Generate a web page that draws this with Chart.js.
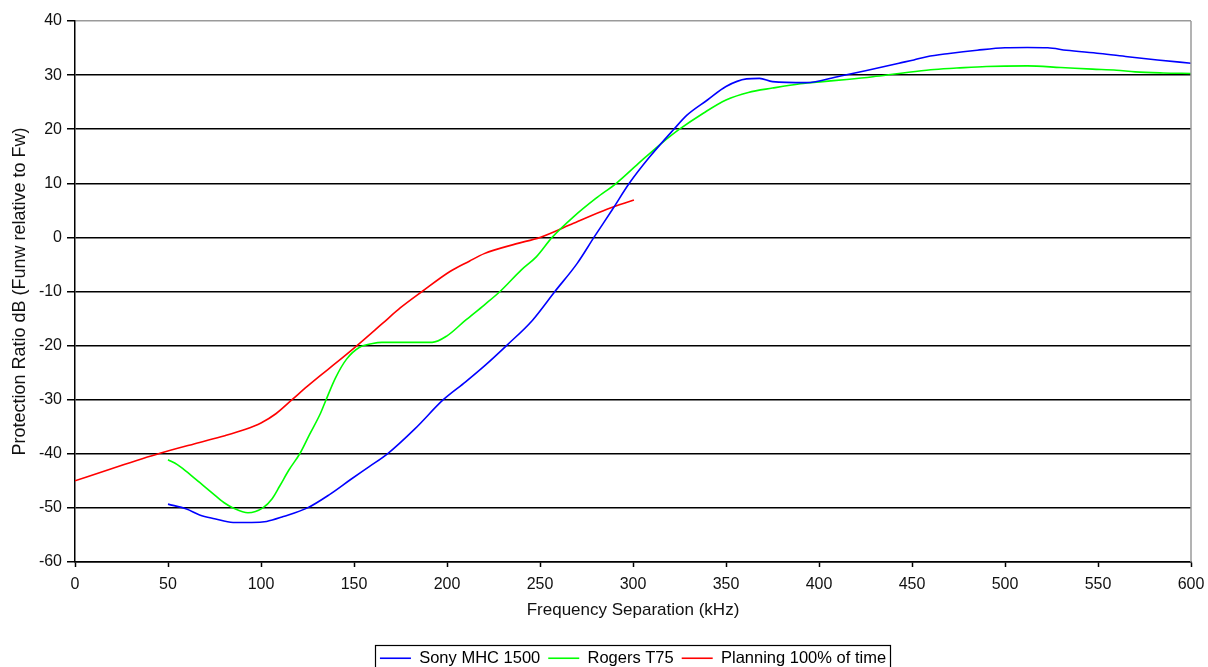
<!DOCTYPE html>
<html>
<head>
<meta charset="utf-8">
<script src="https://cdn.jsdelivr.net/npm/chart.js@4/dist/chart.umd.min.js"></script>
<style>
  html, body { margin: 0; padding: 0; background: #fff; }
  #wrap { width: 1208px; height: 667px; }
</style>
</head>
<body>
<div id="wrap"><canvas id="c" width="1208" height="667"></canvas></div>
<script>
// ---- data ----
const seriesNames = ['Sony MHC 1500', 'Rogers T75', 'Planning 100% of time'];

const sonyX = [50, 60, 67, 75, 85, 95, 103, 112, 125, 137, 148, 158, 168, 183, 198, 210, 220, 232, 246, 258, 270, 279, 289, 298, 309, 322, 329, 340, 350, 361, 368, 375, 393, 411, 425, 443, 451, 458, 470, 485, 500, 512, 523, 533, 551, 566, 582, 600];
const sonyY = [-49.3, -50.2, -51.3, -52.0, -52.7, -52.7, -52.5, -51.6, -50.0, -47.5, -44.8, -42.4, -40.0, -35.3, -30.0, -26.7, -23.8, -20.0, -15.3, -10.0, -4.8, 0, 5.2, 10, 14.9, 20, 22.6, 25.4, 27.9, 29.3, 29.4, 28.8, 28.6, 29.8, 30.8, 32.2, 32.8, 33.4, 34.0, 34.6, 35.05, 35.1, 35.05, 34.6, 34.0, 33.4, 32.8, 32.2];

const rogersX = [50, 55, 60, 67, 74, 80, 85, 93, 101, 106, 110, 115, 121, 126, 132, 135, 140, 146, 153, 160, 165, 192, 200, 210, 220, 228.5, 240, 248, 256.5, 268, 280, 291, 304, 315, 325, 338, 350, 362, 375, 390, 402, 415, 429, 443, 460, 474, 490, 512, 530, 547, 560, 570, 585, 600];
const rogersY = [-41.1, -42.0, -43.3, -45.3, -47.3, -49.0, -50.0, -50.9, -50.0, -48.3, -46.0, -43.0, -39.9, -36.5, -32.5, -30.0, -26.0, -22.5, -20.3, -19.6, -19.4, -19.4, -18.2, -15.3, -12.5, -10, -6.0, -3.6, 0, 3.8, 7.2, 10, 14.0, 17.3, 20, 23.0, 25.4, 26.8, 27.6, 28.4, 28.8, 29.2, 29.7, 30.3, 31.0, 31.3, 31.6, 31.7, 31.4, 31.1, 30.9, 30.6, 30.4, 30.3];

const planX = [0, 20, 45.7, 67, 80, 90.5, 100, 108, 117, 125, 132, 140, 151.6, 165, 175, 186.6, 201.6, 212, 220, 237, 250, 268, 286, 300.5];
const planY = [-45, -42.7, -39.9, -37.9, -36.7, -35.6, -34.3, -32.6, -29.9, -27.5, -25.5, -23.3, -20, -16.0, -13.0, -10, -6.3, -4.4, -3.0, -1.2, 0, 2.6, 5.2, 6.9];

const xMin = 0, xMax = 600, xStep = 50;
const yMin = -60, yMax = 40, yStep = 10;

const xTitle = 'Frequency Separation (kHz)';
const yTitle = 'Protection Ratio dB (Funw relative to Fw)';

// ---- build ----
const toPts = (xs, ys) => xs.map((x, i) => ({ x: x, y: ys[i] }));
const FONT = '"Liberation Sans", Arial, sans-serif';

const legendFix = {
  id: 'legendFix',
  beforeLayout(chart) {
    const lg = chart.legend;
    if (lg && !lg._fixed) {
      const f = lg.fit;
      lg.fit = function () { f.call(this); this.height = 25; };
      lg._fixed = true;
    }
  },
  afterDraw(chart) {
    const ctx = chart.ctx;
    const a = chart.chartArea;
    ctx.save();
    // plot frame (right side, grey)
    ctx.strokeStyle = '#9a9a9a';
    ctx.lineWidth = 1.5;
    ctx.beginPath();
    ctx.moveTo(a.right, a.top);
    ctx.lineTo(a.right, a.bottom);
    ctx.stroke();
    // legend border
    const lg = chart.legend;
    if (lg && lg.legendHitBoxes && lg.legendHitBoxes.length) {
      const hb = lg.legendHitBoxes;
      const l = hb[0].left - 5;
      const last = hb[hb.length - 1];
      const r = last.left + last.width + 4;
      const t = hb[0].top - 5;
      ctx.strokeStyle = '#000';
      ctx.lineWidth = 1.2;
      ctx.strokeRect(Math.round(l) + 0.5, Math.round(t) + 0.5, Math.round(r - l), 40);
    }
    ctx.restore();
  }
};

const mk = (label, xs, ys, color) => ({
  label: label,
  data: toPts(xs, ys),
  borderColor: color,
  backgroundColor: color,
  borderWidth: 1.6,
  pointRadius: 0,
  pointHoverRadius: 0,
  fill: false,
  cubicInterpolationMode: 'monotone'
});

new Chart(document.getElementById('c'), {
  type: 'line',
  data: {
    datasets: [
      mk(seriesNames[0], sonyX, sonyY, '#0000ff'),
      mk(seriesNames[1], rogersX, rogersY, '#00ff00'),
      mk(seriesNames[2], planX, planY, '#ff0000')
    ]
  },
  options: {
    responsive: false,
    animation: false,
    events: [],
    layout: { padding: { left: 0, right: 17, top: 21, bottom: 0 } },
    plugins: {
      tooltip: { enabled: false },
      legend: {
        position: 'bottom',
        fullSize: false,
        labels: {
          usePointStyle: true,
          pointStyle: 'line',
          pointStyleWidth: 31,
          boxWidth: 31,
          padding: 8,
          color: '#000',
          font: { family: FONT, size: 16.5 }
        }
      }
    },
    scales: {
      x: {
        type: 'linear',
        min: xMin, max: xMax,
        afterFit: s => { s.height = 80; s.paddingLeft = 0; s.paddingRight = 0; },
        ticks: { stepSize: xStep, color: '#111', padding: 8, font: { family: FONT, size: 16 } },
        grid: { drawOnChartArea: false, drawTicks: true, tickLength: 5, tickColor: '#000', tickWidth: 1.5 },
        border: { color: '#000', width: 1.5 },
        title: { display: true, text: xTitle, color: '#111', font: { family: FONT, size: 17 }, padding: { top: 0, bottom: 21 } }
      },
      y: {
        type: 'linear',
        min: yMin, max: yMax,
        afterFit: s => { s.width = 75; s.paddingTop = 0; s.paddingBottom = 0; },
        ticks: { stepSize: yStep, color: '#111', padding: 5, font: { family: FONT, size: 16 } },
        grid: {
          color: c => (c.tick && c.tick.value === yMax) ? '#9a9a9a' : '#000',
          lineWidth: 1.5,
          tickLength: 8,
          tickColor: '#000',
          tickWidth: 1.5
        },
        border: { color: '#000', width: 1.5 },
        title: { display: true, text: yTitle, color: '#111', font: { family: FONT, size: 18 }, padding: { top: 9, bottom: 0 } }
      }
    }
  },
  plugins: [legendFix]
});
</script>
</body>
</html>
